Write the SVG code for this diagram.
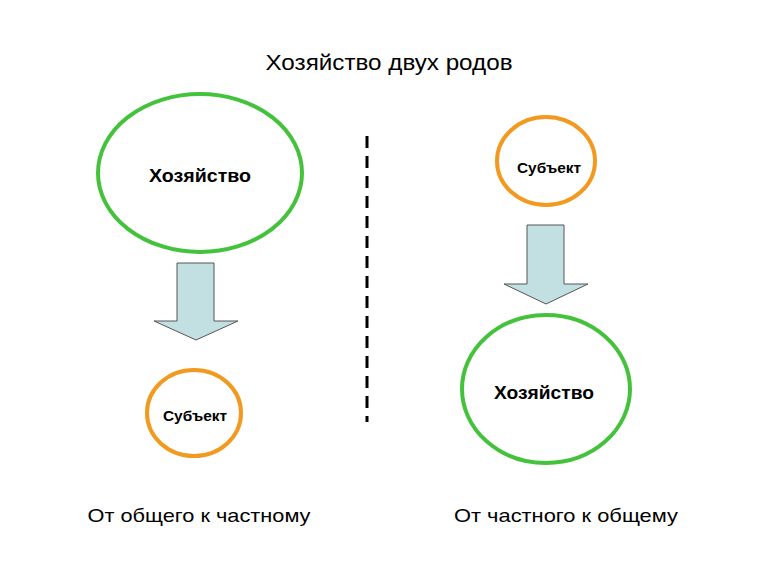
<svg xmlns="http://www.w3.org/2000/svg" width="771" height="573" viewBox="0 0 771 573">
<style>
.bg{fill:#ffffff}
.green{fill:#ffffff;stroke:#44c23c;stroke-width:4}
.orange{fill:#ffffff;stroke:#f29a1f;stroke-width:4}
.arrow{fill:#c2e0e2;stroke:#555555;stroke-width:1}
.lbl{font-family:"Liberation Sans",Arial,sans-serif;font-weight:bold;fill:#000;text-anchor:middle}
.txt{font-family:"Liberation Sans",Arial,sans-serif;fill:#000;text-anchor:middle}
.dash{stroke:#000;stroke-width:3;stroke-dasharray:12 8;fill:none}
</style>
<rect class="bg" x="0" y="0" width="771" height="573"/>
<text class="txt" x="389" y="70" font-size="22" textLength="247" lengthAdjust="spacingAndGlyphs">Хозяйство двух родов</text>
<g id="left-economy">
<ellipse class="green" cx="200" cy="173" rx="102" ry="79"/>
<text class="lbl" x="200" y="182" font-size="18.5" textLength="102" lengthAdjust="spacingAndGlyphs">Хозяйство</text>
</g>
<g id="left-subject">
<ellipse class="orange" cx="194" cy="413" rx="47" ry="43"/>
<text class="lbl" x="195" y="421" font-size="14" textLength="64" lengthAdjust="spacingAndGlyphs">Субъект</text>
</g>
<g id="right-subject">
<ellipse class="orange" cx="546" cy="161" rx="49" ry="44"/>
<text class="lbl" x="549" y="173" font-size="14" textLength="64" lengthAdjust="spacingAndGlyphs">Субъект</text>
</g>
<g id="right-economy">
<ellipse class="green" cx="546" cy="389" rx="84" ry="74"/>
<text class="lbl" x="544" y="399" font-size="18.5" textLength="100" lengthAdjust="spacingAndGlyphs">Хозяйство</text>
</g>
<g id="connectors">
<polygon class="arrow" points="177,263 214,263 214,321 238,321 196,340 154,321 177,321"/>
<polygon class="arrow" points="527,225 564,225 564,284 588,284 546,304 504,284 527,284"/>
<line class="dash" x1="367" y1="136" x2="367" y2="422"/>
</g>
<text class="txt" x="199" y="522" font-size="19" textLength="223" lengthAdjust="spacingAndGlyphs">От общего к частному</text>
<text class="txt" x="566" y="522" font-size="19" textLength="224" lengthAdjust="spacingAndGlyphs">От частного к общему</text>
</svg>
